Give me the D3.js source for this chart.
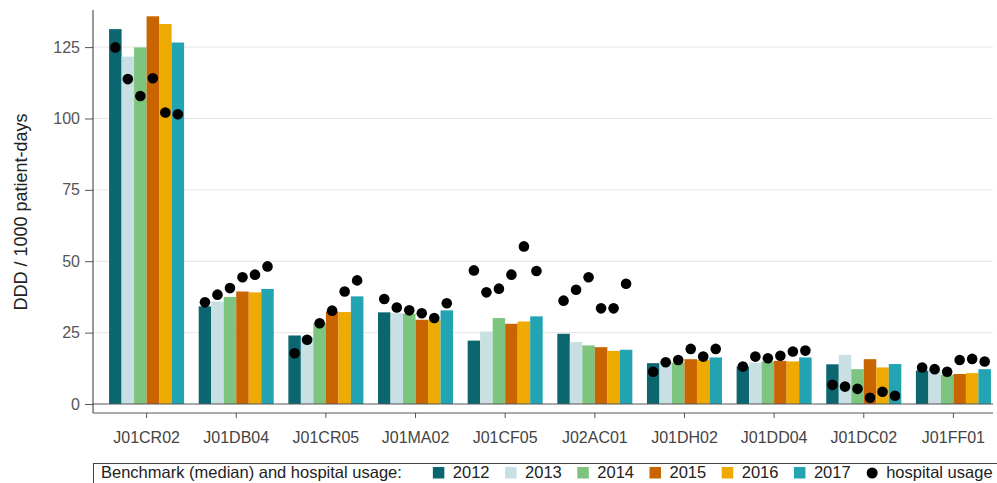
<!DOCTYPE html>
<html>
<head>
<meta charset="utf-8">
<script src="https://cdn.jsdelivr.net/npm/d3@7"></script>
<style>
  body { margin: 0; background: #fff; }
  svg { display: block; font-family: "Liberation Sans", Arial, sans-serif; }
</style>
</head>
<body>
<div id="container"></div>
<script>
// Data
const categories = ["J01CR02", "J01DB04", "J01CR05", "J01MA02", "J01CF05",
  "J02AC01", "J01DH02", "J01DD04", "J01DC02", "J01FF01"];
const years = ["2012", "2013", "2014", "2015", "2016", "2017"];
const yearColors = ["#0b6670", "#c8e0e4", "#7dc47e", "#c96500", "#eeaa00", "#23a4b2"];

// benchmark (median) per category, one value per year
const benchmark = [
  [131.3, 121.7, 124.9, 135.8, 133.1, 126.6],
  [34.2, 35.9, 37.5, 39.4, 39.1, 40.3],
  [24.0, 23.6, 28.3, 32.4, 32.2, 37.7],
  [32.1, 31.8, 31.6, 29.5, 29.6, 32.8],
  [22.2, 25.4, 30.1, 28.1, 28.9, 30.7],
  [24.6, 21.7, 20.5, 19.9, 18.6, 19.0],
  [14.3, 14.9, 14.5, 15.7, 15.4, 16.3],
  [13.1, 14.5, 14.9, 15.1, 14.9, 16.3],
  [13.9, 17.2, 12.2, 15.7, 12.8, 14.0],
  [11.7, 11.7, 10.2, 10.5, 10.8, 12.2]
];

// hospital usage per category, one value per year
const hospital = [
  [124.9, 113.8, 107.9, 114.1, 102.1, 101.5],
  [35.6, 38.3, 40.6, 44.4, 45.3, 48.2],
  [17.8, 22.5, 28.3, 32.7, 39.4, 43.3],
  [36.8, 33.8, 32.8, 31.8, 30.1, 35.3],
  [46.8, 39.1, 40.4, 45.3, 55.2, 46.6],
  [36.2, 40.0, 44.4, 33.5, 33.5, 42.1],
  [11.3, 14.6, 15.4, 19.3, 16.6, 19.3],
  [13.1, 16.6, 16.0, 16.9, 18.4, 18.7],
  [6.7, 6.1, 5.3, 2.2, 4.3, 2.9],
  [12.8, 12.2, 11.3, 15.4, 15.8, 14.9]
];

const yTicks = [0, 25, 50, 75, 100, 125];

const width = 997;
const height = 483;
const axisX = 93;      // left axis line
const plotTop = 10;
const plotBottom = 404; // zero line
const lowerAxisY = 413; // offset category axis
const plotRight = 993;

const svg = d3.select("#container").append("svg")
  .attr("width", width)
  .attr("height", height);

svg.append("rect").attr("width", width).attr("height", height).attr("fill", "#fff");

const x = d3.scaleBand()
  .domain(categories)
  .range([101, 999])
  .paddingInner(0.163)
  .paddingOuter(0.09);

const xYear = d3.scaleBand()
  .domain(years)
  .range([0, x.bandwidth()]);

const y = d3.scaleLinear()
  .domain([0, 138])
  .range([plotBottom, plotTop]);

const color = d3.scaleOrdinal().domain(years).range(yearColors);

// gridlines
svg.append("g")
  .selectAll("line")
  .data(yTicks.filter(d => d > 0))
  .join("line")
  .attr("x1", axisX)
  .attr("x2", plotRight)
  .attr("y1", d => y(d))
  .attr("y2", d => y(d))
  .attr("stroke", "#e6e6e6")
  .attr("stroke-width", 1);

// bars
const groups = svg.append("g")
  .selectAll("g")
  .data(categories)
  .join("g")
  .attr("transform", d => `translate(${x(d)},0)`);

groups.selectAll("rect")
  .data((d, i) => benchmark[i].map((v, j) => ({ year: years[j], value: v })))
  .join("rect")
  .attr("x", d => xYear(d.year))
  .attr("y", d => y(d.value))
  .attr("width", xYear.bandwidth())
  .attr("height", d => y(0) - y(d.value))
  .attr("fill", d => color(d.year));

// hospital usage dots
groups.selectAll("circle")
  .data((d, i) => hospital[i].map((v, j) => ({ year: years[j], value: v })))
  .join("circle")
  .attr("cx", d => xYear(d.year) + xYear.bandwidth() / 2)
  .attr("cy", d => y(d.value))
  .attr("r", 5.3)
  .attr("fill", "#000");

// zero line
svg.append("line")
  .attr("x1", axisX).attr("x2", plotRight)
  .attr("y1", y(0)).attr("y2", y(0))
  .attr("stroke", "#555").attr("stroke-width", 1);

// y axis
const yAxis = svg.append("g")
  .attr("transform", `translate(${axisX},0)`)
  .call(d3.axisLeft(y).tickValues(yTicks).tickSize(8).tickPadding(5));
yAxis.select(".domain").remove();
yAxis.selectAll(".tick line").attr("stroke", "#555");
yAxis.selectAll(".tick text")
  .attr("fill", "#555")
  .style("font-size", "16px")
  .style("font-family", "'Liberation Sans', Arial, sans-serif");

svg.append("line")
  .attr("x1", axisX).attr("x2", axisX)
  .attr("y1", plotTop).attr("y2", lowerAxisY)
  .attr("stroke", "#333");

// offset category axis
const xAxis = svg.append("g")
  .attr("transform", `translate(0,${lowerAxisY})`)
  .call(d3.axisBottom(x).tickSize(5).tickPadding(14));
xAxis.select(".domain")
  .attr("d", `M${axisX},0H${plotRight}`)
  .attr("stroke", "#555");
xAxis.selectAll(".tick line").attr("stroke", "#555");
xAxis.selectAll(".tick text")
  .attr("fill", "#444")
  .style("font-size", "16px")
  .style("font-family", "'Liberation Sans', Arial, sans-serif");

// y title
svg.append("text")
  .attr("transform", "translate(27,212) rotate(-90)")
  .attr("text-anchor", "middle")
  .attr("fill", "#222")
  .style("font-size", "18px")
  .text("DDD / 1000 patient-days");

// legend
const legend = svg.append("g").attr("transform", "translate(93,463)");
legend.append("rect")
  .attr("x", 0.5).attr("y", 0.5)
  .attr("width", 940).attr("height", 40)
  .attr("fill", "#fff")
  .attr("stroke", "#444");

const title = legend.append("text")
  .attr("x", 8).attr("y", 15)
  .attr("fill", "#222")
  .style("font-size", "16.5px")
  .text("Benchmark (median) and hospital usage:");

let lx = 8 + title.node().getComputedTextLength() + 31;
years.forEach((yr) => {
  legend.append("rect")
    .attr("x", lx).attr("y", 4)
    .attr("width", 11.5).attr("height", 11.5)
    .attr("fill", color(yr));
  const t = legend.append("text")
    .attr("x", lx + 20).attr("y", 15)
    .attr("fill", "#222")
    .style("font-size", "16.5px")
    .text(yr);
  lx += 20 + t.node().getComputedTextLength() + 15.5;
});
legend.append("circle")
  .attr("cx", lx + 6).attr("cy", 10).attr("r", 5.5)
  .attr("fill", "#000");
legend.append("text")
  .attr("x", lx + 20).attr("y", 15)
  .attr("fill", "#222")
  .style("font-size", "16.5px")
  .text("hospital usage");
</script>
</body>
</html>
